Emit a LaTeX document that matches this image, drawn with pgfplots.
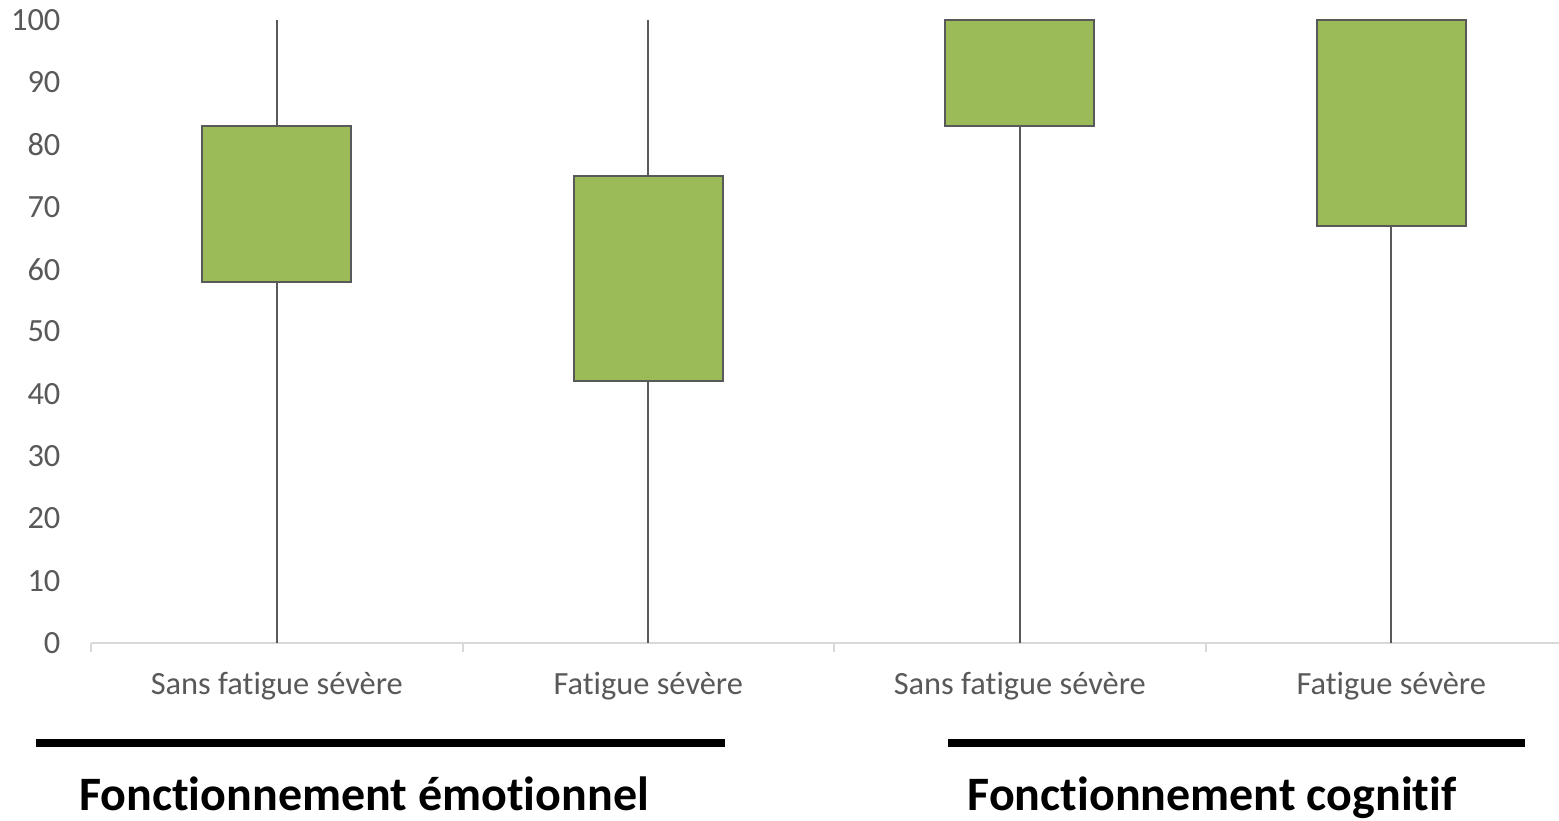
\documentclass[border=0pt]{standalone}
\usepackage{pgfplots}
\pgfplotsset{compat=1.18}
\usepgfplotslibrary{statistics}
\usepackage{fontspec}
\setmainfont{Carlito}[Ligatures=NoCommon]
\definecolor{boxgreen}{HTML}{9BBB59}
\definecolor{edgegray}{HTML}{595959}
\definecolor{axisgray}{HTML}{D9D9D9}
\definecolor{labelgray}{HTML}{595959}

\begin{document}
\begin{tikzpicture}
\begin{axis}[
  scale only axis,
  width=743pt, height=311.5pt,
  xmin=-0.5, xmax=3.5, ymin=0, ymax=100,
  axis x line*=bottom, axis y line*=left,
  y axis line style={draw=none},
  x axis line style={axisgray, line width=1pt, -},
  xtick={0,1,2,3},
  xticklabels={Sans fatigue sévère, Fatigue sévère, Sans fatigue sévère, Fatigue sévère},
  major x tick style={draw=none},
  minor xtick={-0.5,0.5,1.5,2.5,3.5},
  minor x tick style={axisgray, line width=1pt},
  tick align=outside,
  minor tick length=4.5pt,
  ytick={0,10,...,100},
  y tick style={draw=none},
  ticklabel style={font=\fontsize{16.2}{19}\selectfont, text=labelgray},
  /pgf/number format/assume math mode=true,
  yticklabel style={xshift=-7.5pt},
  xticklabel style={yshift=-7pt},
  clip=false,
  boxplot/draw direction=y,
  boxplot/box extend=0.4,
  boxplot/whisker extend=0,
]
\addplot[boxplot prepared={draw position=0, lower whisker=0, lower quartile=58,
  median=58, upper quartile=83, upper whisker=100},
  fill=boxgreen, draw=edgegray, line width=1pt] coordinates {};
\addplot[boxplot prepared={draw position=1, lower whisker=0, lower quartile=42,
  median=42, upper quartile=75, upper whisker=100},
  fill=boxgreen, draw=edgegray, line width=1pt] coordinates {};
\addplot[boxplot prepared={draw position=2, lower whisker=0, lower quartile=83,
  median=83, upper quartile=100, upper whisker=100},
  fill=boxgreen, draw=edgegray, line width=1pt] coordinates {};
\addplot[boxplot prepared={draw position=3, lower whisker=0, lower quartile=67,
  median=67, upper quartile=100, upper whisker=100},
  fill=boxgreen, draw=edgegray, line width=1pt] coordinates {};
\end{axis}

% group brackets and names under the categories
\draw[line width=4pt] (-27.5pt,-50pt) -- (317pt,-50pt);
\draw[line width=4pt] (428.5pt,-50pt) -- (717pt,-50pt);
\node[font=\fontsize{24}{28}\selectfont\bfseries, anchor=base] at (136.5pt,-83.5pt) {Fonctionnement émotionnel};
\node[font=\fontsize{24}{28}\selectfont\bfseries, anchor=base] at (560.5pt,-83.5pt) {Fonctionnement cognitif};

\pgfresetboundingbox
\useasboundingbox (-45.5pt,-88.5pt) rectangle (734pt,321.5pt);
\end{tikzpicture}
\end{document}
